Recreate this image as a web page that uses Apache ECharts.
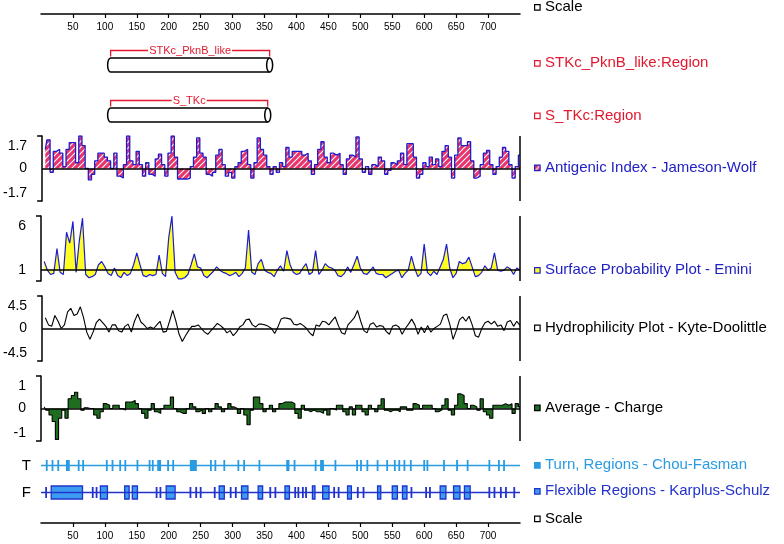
<!DOCTYPE html>
<html><head><meta charset="utf-8">
<script src="https://cdn.jsdelivr.net/npm/echarts@6/dist/echarts.min.js"></script>
<style>html,body{margin:0;padding:0;background:#fff}#c{width:784px;height:544px}</style>
</head><body><div id="c"></div><script>
// ---------------- DATA ----------------
const RESIDUE_STEP = 5;
const scaleMin = 0, scaleMax = 750, scaleInterval = 50;

const antigenic = [
 1.0,1.5,-0.2,0.9,1.0,0.8,0.1,1.0,1.35,1.35,
 0.3,1.7,1.2,0.0,-0.6,-0.3,0.4,0.8,0.8,0.6,
 0.4,0.0,0.8,-0.4,-0.5,0.2,1.7,0.4,0.2,0.9,
 0.2,-0.4,0.3,-0.3,-0.4,0.5,0.75,0.2,-0.4,0.8,
 1.7,0.6,-0.55,-0.55,-0.55,-0.5,0.1,0.6,1.6,0.8,
 0.6,-0.3,-0.4,-0.2,0.7,1.0,0.2,-0.4,-0.2,-0.5,
 0.1,0.3,0.9,1.0,0.2,-0.5,0.3,1.6,1.0,0.7,
 0.1,-0.3,0.1,-0.2,0.3,0.1,1.1,0.6,0.9,0.9,
 0.9,0.7,0.8,0.4,-0.3,0.2,1.0,1.4,0.6,0.3,
 0.8,0.7,0.8,0.2,-0.3,0.5,0.7,0.6,1.65,0.5,
 -0.2,0.1,-0.3,0.2,0.1,0.6,0.4,-0.3,-0.1,0.3,
 0.2,0.4,0.8,0.2,1.3,1.3,0.6,-0.5,-0.3,0.3,
 0.1,0.6,0.2,0.5,0.1,0.9,1.2,0.6,-0.5,0.7,
 1.6,1.2,1.2,1.4,0.4,-0.5,-0.4,0.2,0.8,0.95,
 0.2,-0.3,0.1,0.6,1.1,0.9,0.2,-0.5,0.1,0.7];

const surface = [
 1.8,1.0,0.6,0.7,3.0,0.8,0.6,4.5,3.5,5.5,
 0.8,3.7,5.8,0.6,0.3,0.4,0.6,1.5,1.8,1.3,
 0.7,0.5,1.2,0.5,0.3,0.8,0.5,0.7,1.5,2.6,
 1.5,0.5,0.4,0.6,0.5,0.6,2.4,0.7,0.4,4.0,
 6.0,0.8,0.2,0.2,0.3,0.6,1.5,2.5,1.3,1.2,
 0.5,0.3,0.6,0.9,1.3,1.0,0.8,0.7,0.5,0.6,
 0.8,0.4,0.7,1.2,4.7,0.8,0.6,1.6,2.0,1.0,
 0.8,0.7,0.4,1.0,1.4,0.9,2.8,1.5,0.8,0.6,
 0.7,1.2,1.6,0.6,0.8,2.8,0.6,1.0,1.6,1.3,
 1.2,1.0,0.5,0.4,0.7,1.3,0.8,1.5,2.3,1.2,
 0.7,0.6,0.9,1.3,0.7,0.6,0.6,0.3,0.5,0.7,
 0.9,1.0,0.3,0.7,1.0,2.3,1.2,0.4,0.7,3.4,
 0.8,0.5,0.9,0.6,1.3,2.0,3.4,1.2,0.3,0.7,
 1.8,1.6,1.7,2.2,1.3,0.4,0.5,0.8,1.4,1.0,
 1.2,2.6,1.0,0.9,1.0,1.3,1.1,0.6,1.2,1.0];

const hydrophilicity = [
 1.5,0.5,0.3,1.8,1.0,0.0,0.5,2.3,2.8,1.8,
 2.0,3.0,1.5,-0.5,-1.5,-0.5,0.8,1.3,0.8,0.3,
 -0.5,0.5,0.5,-0.3,-0.5,0.3,0.6,-0.5,1.0,2.0,
 0.9,0.5,0.0,0.2,0.0,0.5,1.0,-0.5,-0.4,1.0,
 2.5,1.0,-0.8,-1.8,-1.0,-0.3,0.3,0.3,0.5,0.0,
 -0.5,-0.8,-0.3,0.2,0.7,0.4,0.0,-0.6,-0.3,-1.0,
 -0.5,0.2,0.5,1.2,1.3,0.5,0.2,0.6,0.6,0.5,
 0.3,0.0,-0.7,0.2,1.3,1.5,1.4,1.3,0.6,0.5,
 0.7,0.4,0.0,-0.6,-1.0,0.5,0.3,1.0,0.9,0.5,
 1.1,1.6,0.4,-0.6,-0.8,0.5,1.0,1.5,2.5,1.0,
 -0.3,-0.6,0.6,0.8,0.2,0.4,0.3,-0.4,-0.8,0.3,
 0.5,0.2,-0.8,0.0,0.6,1.3,0.5,-0.8,0.2,-0.6,
 0.4,-0.5,0.0,0.3,0.6,1.8,2.0,0.5,-1.5,-0.3,
 1.2,1.6,1.0,1.7,0.5,-1.0,-1.2,0.0,0.8,1.0,
 0.6,1.0,0.3,0.5,-0.3,0.9,1.1,0.3,1.0,0.4];

const charge = [
 0.05,-0.05,-0.2,-0.4,-0.95,-0.3,-0.05,-0.3,0.3,0.4,
 0.5,0.3,-0.05,0.02,0.0,0.0,-0.2,-0.3,-0.1,0.15,
 0.1,0.0,0.1,0.1,0.0,-0.05,0.2,0.2,0.25,0.15,
 0.0,-0.15,-0.3,-0.05,0.15,-0.1,-0.15,0.0,0.1,0.1,
 0.35,0.0,-0.1,-0.15,-0.15,0.0,0.15,0.05,-0.1,-0.05,
 -0.15,0.0,-0.1,0.0,0.15,0.05,-0.1,0.0,0.15,0.05,
 0.0,-0.15,0.0,-0.2,-0.5,-0.05,0.35,0.35,0.15,-0.1,
 0.0,0.1,-0.1,0.0,0.15,0.2,0.2,0.2,0.15,-0.15,
 -0.3,0.1,-0.05,-0.1,-0.05,-0.1,-0.1,-0.15,-0.05,-0.2,
 0.0,-0.05,0.1,0.1,-0.1,-0.2,0.05,-0.2,0.1,0.1,
 -0.1,-0.2,0.1,0.0,-0.1,0.1,0.3,-0.05,-0.1,-0.05,
 -0.05,-0.1,0.05,0.05,-0.05,-0.05,0.15,0.1,0.0,0.1,
 0.1,0.1,0.0,-0.1,-0.05,0.1,0.3,-0.05,-0.2,0.1,
 0.45,0.4,0.15,0.0,0.1,0.05,-0.05,0.3,-0.1,-0.2,
 -0.3,0.1,0.1,0.1,0.15,0.1,0.15,-0.15,0.15,0.05];

const antigenicRange = [-1.7, 1.7], antigenicTicks = [1.7, 0, -1.7], antigenicTickLabels = ['1.7','0','-1.7'];
const surfaceRange = [0, 6], surfaceTicks = [6, 1], surfaceTickLabels = ['6','1'];
const hydroRange = [-4.5, 4.5], hydroTicks = [4.5, 0, -4.5], hydroTickLabels = ['4.5','0','-4.5'];
const chargeRange = [-1, 1], chargeTicks = [1, 0, -1], chargeTickLabels = ['1','0','-1'];

const regionNames = ['STKc_PknB_like', 'S_TKc'];
const regionStart = [109, 109];
const regionEnd = [358, 355];

const rowLabels = ['T', 'F'];
const turnStart = [9,18,27,39,59,66,103,112,124,132,151,170,175,182,199,207,233,266,273,287,309,318,342,384,397,430,437,461,495,501,511,527,542,554,561,569,579,600,605,631,650,668,702,717,725];
const turnEnd   = [9,18,27,45,59,66,103,112,124,132,151,170,175,188,199,207,244,266,273,287,309,318,342,389,397,430,443,461,495,501,511,527,542,554,561,569,579,600,605,631,653,668,702,717,725];
const flexStart = [8,16,81,87,93,131,143,181,187,196,234,243,250,272,279,297,305,314,340,359,367,382,398,403,410,415,425,441,459,466,480,496,505,527,550,566,580,603,609,625,646,663,702,710,720,728,741];
const flexEnd   = [8,65,81,87,104,138,151,181,187,210,234,243,250,272,287,297,305,324,347,359,367,389,398,403,410,415,429,451,459,466,486,496,505,532,558,573,580,603,609,634,656,672,702,710,720,728,741];

const legendItems = [
 {text:'Scale', color:'#000', fill:'#fff', stroke:'#000'},
 {text:'STKc_PknB_like:Region', color:'#e2182f', fill:'#fff', stroke:'#e2182f'},
 {text:'S_TKc:Region', color:'#e2182f', fill:'#fff', stroke:'#e2182f'},
 {text:'Antigenic Index - Jameson-Wolf', color:'#2222c4', fill:'#e8336b', stroke:'#2222c4'},
 {text:'Surface Probability Plot - Emini', color:'#2222c4', fill:'#ffff22', stroke:'#2222c4'},
 {text:'Hydrophilicity Plot - Kyte-Doolittle', color:'#000', fill:'#fff', stroke:'#000'},
 {text:'Average - Charge', color:'#000', fill:'#1f6e1f', stroke:'#000'},
 {text:'Turn, Regions - Chou-Fasman', color:'#2a9be0', fill:'#2a9be0', stroke:'#2a9be0'},
 {text:'Flexible Regions - Karplus-Schulz', color:'#2233cc', fill:'#3b9cf2', stroke:'#2233cc'},
 {text:'Scale', color:'#000', fill:'#fff', stroke:'#000'}
];
const legendY = [7, 63, 115.5, 167.5, 270, 327.5, 407.5, 465, 491, 518.5];

// ---------------- CHART ----------------
const FONT = '"Liberation Sans", Arial, sans-serif';
const residues = antigenic.map((_, i) => (i + 1) * RESIDUE_STEP);
const pairs = arr => arr.map((v, i) => [residues[i], v]);

const hatch = document.createElement('canvas');
hatch.width = 6; hatch.height = 6;
(function(){
  const g = hatch.getContext('2d');
  g.fillStyle = '#e8336b'; g.fillRect(0,0,6,6);
  g.strokeStyle = '#ffffff'; g.lineWidth = 1.1;
  g.beginPath(); g.moveTo(0,6); g.lineTo(6,0); g.moveTo(-3,3); g.lineTo(3,-3); g.moveTo(3,9); g.lineTo(9,3); g.stroke();
})();

const L = 41, W = 479;
const grids = [
  {left:L, width:W, top:13, height:1},
  {left:L, width:W, top:40, height:100},
  {left:L, width:W, top:136, height:65},
  {left:L, width:W, top:216, height:65},
  {left:L, width:W, top:296, height:65},
  {left:L, width:W, top:376, height:65},
  {left:L, width:W, top:452, height:54},
  {left:L, width:W, top:522, height:1}
];

function scaleAxis(gi) {
  return {type:'value', gridIndex:gi, min:scaleMin, max:scaleMax, interval:scaleInterval,
    axisLine:{show:true, lineStyle:{color:'#000', width:1.5}},
    axisTick:{show:true, length:4, lineStyle:{color:'#000', width:1.2}},
    axisLabel:{fontSize:10, color:'#000', margin:8, fontFamily:FONT, showMinLabel:false, showMaxLabel:false},
    splitLine:{show:false}};
}
function hiddenX(gi) { return {type:'value', gridIndex:gi, min:scaleMin, max:scaleMax, show:false}; }

const labFont = {fontSize:14, color:'#000', fontFamily:FONT};
function panelY(gi, range, ticks, texts) {
  const [mn, mx] = range;
  return {type:'value', gridIndex:gi, min:mn, max:mx,
    axisLine:{show:true, lineStyle:{color:'#000', width:1.5}},
    axisTick:{show:true, customValues:[mn, mx], length:5, lineStyle:{color:'#000', width:1.5}},
    axisLabel:{customValues:ticks, margin:15,
      formatter: v => {
        const i = ticks.indexOf(v); const t = i >= 0 ? texts[i] : '';
        if (v === mx) return '{t|' + t + '}';
        if (v === mn) return '{b|' + t + '}';
        return '{m|' + t + '}';
      },
      rich:{t:Object.assign({padding:[21,0,0,0]}, labFont), b:Object.assign({padding:[0,0,15,0]}, labFont), m:Object.assign({}, labFont)}},
    splitLine:{show:false}};
}

function refLines(baseY) {
  return {silent:true, symbol:['none','none'], label:{show:false}, animation:false,
    lineStyle:{color:'#000', width:1.5, type:'solid'},
    data:[{yAxis:baseY}, {xAxis:scaleMax}]};
}

function renderRegion(params, api) {
  const s = api.value(0), e = api.value(1), row = api.value(2);
  const p0 = api.coord([s, row]), p1 = api.coord([e, row]);
  const x0 = p0[0], x1 = p1[0], cy = p0[1];
  const h = 14, rx = 3, yt = cy - h/2, yb = cy + h/2, by = yt - 7.5;
  const name = regionNames[params.dataIndex];
  return {type:'group', children:[
    {type:'path', shape:{pathData:`M${x0},${yt} L${x1},${yt} A${rx},${h/2} 0 0 1 ${x1},${yb} L${x0},${yb} A${rx},${h/2} 0 0 1 ${x0},${yt} Z`},
      style:{fill:'#fff', stroke:'#000', lineWidth:1.5}},
    {type:'path', shape:{pathData:`M${x1},${yt} A${rx},${h/2} 0 0 0 ${x1},${yb}`},
      style:{fill:'none', stroke:'#000', lineWidth:1.5}},
    {type:'polyline', shape:{points:[[x0, yt-1.5],[x0, by],[x1, by],[x1, yt-1.5]]},
      style:{fill:'none', stroke:'#e2182f', lineWidth:1.3}},
    {type:'text', x:(x0+x1)/2, y:by, style:{text:name, fill:'#e2182f', fontSize:11, fontFamily:FONT,
      align:'center', verticalAlign:'middle', backgroundColor:'#fff', padding:[0,1]}}
  ]};
}

function renderTurn(params, api) {
  const s = api.value(0), e = api.value(1);
  const p0 = api.coord([s, 0]), p1 = api.coord([e, 0]);
  const w = Math.max(p1[0] - p0[0], 1.8);
  const x = e > s ? p0[0] : p0[0] - 0.9;
  return {type:'rect', shape:{x:x, y:p0[1]-5.5, width:w, height:11}, style:{fill:'#2a9be0'}};
}
function renderFlex(params, api) {
  const s = api.value(0), e = api.value(1);
  const p0 = api.coord([s, 1]), p1 = api.coord([e, 1]);
  if (e > s) {
    return {type:'rect', shape:{x:p0[0], y:p0[1]-6.5, width:p1[0]-p0[0], height:13},
      style:{fill:'#3b9cf2', stroke:'#2233cc', lineWidth:1.3}};
  }
  return {type:'rect', shape:{x:p0[0]-0.9, y:p0[1]-5.5, width:1.8, height:11}, style:{fill:'#2233cc'}};
}

const graphics = [];
legendItems.forEach((it, i) => {
  const y = legendY[i];
  graphics.push({type:'rect', left:534, top:y-3, shape:{x:0, y:0, width:5.5, height:5.5},
    style:{fill: i === 3 ? {image:hatch, repeat:'repeat'} : it.fill, stroke:it.stroke, lineWidth:1.2}, z:10});
  graphics.push({type:'text', x:545, y:y, style:{text:it.text, fill:it.color, fontSize:15, fontFamily:FONT,
    align:'left', verticalAlign:'middle'}, z:10});
});

const option = {
  animation:false,
  backgroundColor:'#fff',
  grid: grids,
  xAxis: [scaleAxis(0), hiddenX(1), hiddenX(2), hiddenX(3), hiddenX(4), hiddenX(5), hiddenX(6), scaleAxis(7)],
  yAxis: [
    {type:'value', gridIndex:0, show:false},
    {type:'category', gridIndex:1, data:regionNames, inverse:true, show:false},
    panelY(2, antigenicRange, antigenicTicks, antigenicTickLabels),
    panelY(3, surfaceRange, surfaceTicks, surfaceTickLabels),
    panelY(4, hydroRange, hydroTicks, hydroTickLabels),
    panelY(5, chargeRange, chargeTicks, chargeTickLabels),
    {type:'category', gridIndex:6, data:rowLabels, inverse:true,
      axisLine:{show:false}, axisTick:{show:false},
      axisLabel:{fontSize:15, color:'#000', margin:10, fontFamily:FONT}},
    {type:'value', gridIndex:7, show:false}
  ],
  graphic: graphics,
  series: [
    {type:'custom', xAxisIndex:1, yAxisIndex:1, renderItem:renderRegion, silent:true,
      data: regionNames.map((n, i) => [regionStart[i], regionEnd[i], i]), encode:{x:[0,1], y:2}},
    {type:'line', xAxisIndex:2, yAxisIndex:2, data:pairs(antigenic), showSymbol:false, step:'middle',
      lineStyle:{color:'#1c1cd0', width:1.3}, areaStyle:{color:{image:hatch, repeat:'repeat'}, origin:0, opacity:1},
      markLine:refLines(0)},
    {type:'line', xAxisIndex:3, yAxisIndex:3, data:pairs(surface), showSymbol:false,
      lineStyle:{color:'#1c1cd0', width:1.2}, areaStyle:{color:'#ffff22', origin:1, opacity:1},
      markLine:refLines(1)},
    {type:'line', xAxisIndex:4, yAxisIndex:4, data:pairs(hydrophilicity), showSymbol:false,
      lineStyle:{color:'#000', width:1.1}, markLine:refLines(0)},
    {type:'line', xAxisIndex:5, yAxisIndex:5, data:pairs(charge), showSymbol:false, step:'middle',
      lineStyle:{color:'#000', width:1.1}, areaStyle:{color:'#1f6e1f', origin:0, opacity:1},
      markLine:refLines(0)},
    {type:'line', xAxisIndex:6, yAxisIndex:6, data:[[scaleMin,'T'],[scaleMax,'T']], showSymbol:false, silent:true,
      lineStyle:{color:'#2a9be0', width:1.5}},
    {type:'line', xAxisIndex:6, yAxisIndex:6, data:[[scaleMin,'F'],[scaleMax,'F']], showSymbol:false, silent:true,
      lineStyle:{color:'#2233cc', width:1.5}},
    {type:'custom', xAxisIndex:6, yAxisIndex:6, renderItem:renderTurn, silent:true, z:3,
      data: turnStart.map((s, i) => [s, turnEnd[i], 0]), encode:{x:[0,1], y:2}},
    {type:'custom', xAxisIndex:6, yAxisIndex:6, renderItem:renderFlex, silent:true, z:3,
      data: flexStart.map((s, i) => [s, flexEnd[i], 1]), encode:{x:[0,1], y:2}}
  ]
};

const chart = echarts.init(document.getElementById('c'), null, {renderer:'canvas'});
chart.setOption(option);
</script></body></html>
